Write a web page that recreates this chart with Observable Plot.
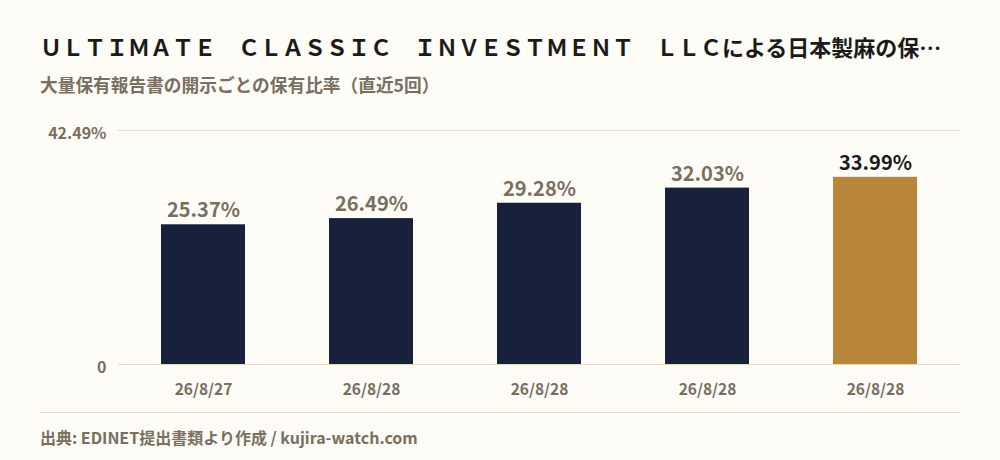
<!DOCTYPE html>
<html><head><meta charset="utf-8">
<script src="https://cdn.jsdelivr.net/npm/d3@7"></script>
<script src="https://cdn.jsdelivr.net/npm/@observablehq/plot@0.6"></script>
<style>
html,body{margin:0;padding:0;background:#fdfcf7;}
#wrap{position:relative;width:1000px;height:460px;background:#fdfcf7;font-family:"Noto Sans CJK JP","Noto Sans",sans-serif;overflow:hidden;}
#title{position:absolute;left:40px;top:30px;font-size:22px;font-weight:700;color:#1c1a17;white-space:nowrap;line-height:32px;}
#sub{position:absolute;left:40px;top:70px;font-size:17.7px;font-weight:700;color:#7a6e5e;white-space:nowrap;line-height:28px;}
#chart{position:absolute;left:0;top:105px;}
#rule{position:absolute;left:40px;top:412px;width:920px;height:1px;background:#e6dcc9;}
#foot{position:absolute;left:40px;top:426px;font-size:16px;font-weight:700;color:#7a6e5e;white-space:nowrap;line-height:22px;}
</style></head>
<body><div id="wrap">
<div id="title"></div>
<div id="sub"></div>
<div id="chart"></div>
<div id="rule"></div>
<div id="foot"></div>
</div>
<script>
const titleText = "ＵＬＴＩＭＡＴＥ　ＣＬＡＳＳＩＣ　ＩＮＶＥＳＴＭＥＮＴ　ＬＬＣによる日本製麻の保…";
const subtitleText = "大量保有報告書の開示ごとの保有比率（直近5回）";
const footText = "出典: EDINET提出書類より作成 / kujira-watch.com";
const dates = ["26/8/27", "26/8/28", "26/8/28", "26/8/28", "26/8/28"];
const ratios = [25.37, 26.49, 29.28, 32.03, 33.99];
const yTicks = [0, 42.49];
const yTickLabels = ["0", "42.49%"];
const highlight = [false, false, false, false, true];

document.getElementById("title").textContent = titleText;
document.getElementById("sub").textContent = subtitleText;
document.getElementById("foot").textContent = footText;

const data = dates.map((d, i) => ({i, date: d, v: ratios[i], hl: highlight[i]}));
const yData = yTicks.map((t, k) => ({t, label: yTickLabels[k]}));
const navy = "#17213b", gold = "#b8863b", muted = "#7a6e5e";

const chart = Plot.plot({
  width: 1000,
  height: 300,
  marginLeft: 118,
  marginRight: 40,
  marginTop: 25,
  marginBottom: 41,
  style: {background: "transparent", fontFamily: "'Noto Sans CJK JP','Noto Sans',sans-serif"},
  x: {domain: data.map(d => d.i), paddingInner: 0.5, paddingOuter: 0.25, axis: null},
  y: {domain: [0, yTicks[1]], axis: null},
  marks: [
    Plot.ruleY(yTicks, {stroke: "#e6dcc6", strokeWidth: 1}),
    Plot.barY(data, {x: "i", y: "v", fill: d => d.hl ? gold : navy}),
    Plot.text(data, {x: "i", y: "v", text: d => d.v.toFixed(2) + "%", dy: -14, fontSize: 20, fontWeight: 700, fill: d => d.hl ? "#1a1a1a" : muted}),
    Plot.axisX({tickSize: 0, tickPadding: 19, tickFormat: i => dates[i], fontSize: 15.5, fontWeight: 700, color: muted, label: null}),
    Plot.text(yData, {y: "t", text: "label", frameAnchor: "left", textAnchor: "end", dx: -12, dy: 3, fontSize: 16, fontWeight: 700, fill: muted})
  ]
});
chart.querySelectorAll("text").forEach(t => { t.style.fontWeight = "700"; });
document.getElementById("chart").appendChild(chart);
</script>
</body></html>
